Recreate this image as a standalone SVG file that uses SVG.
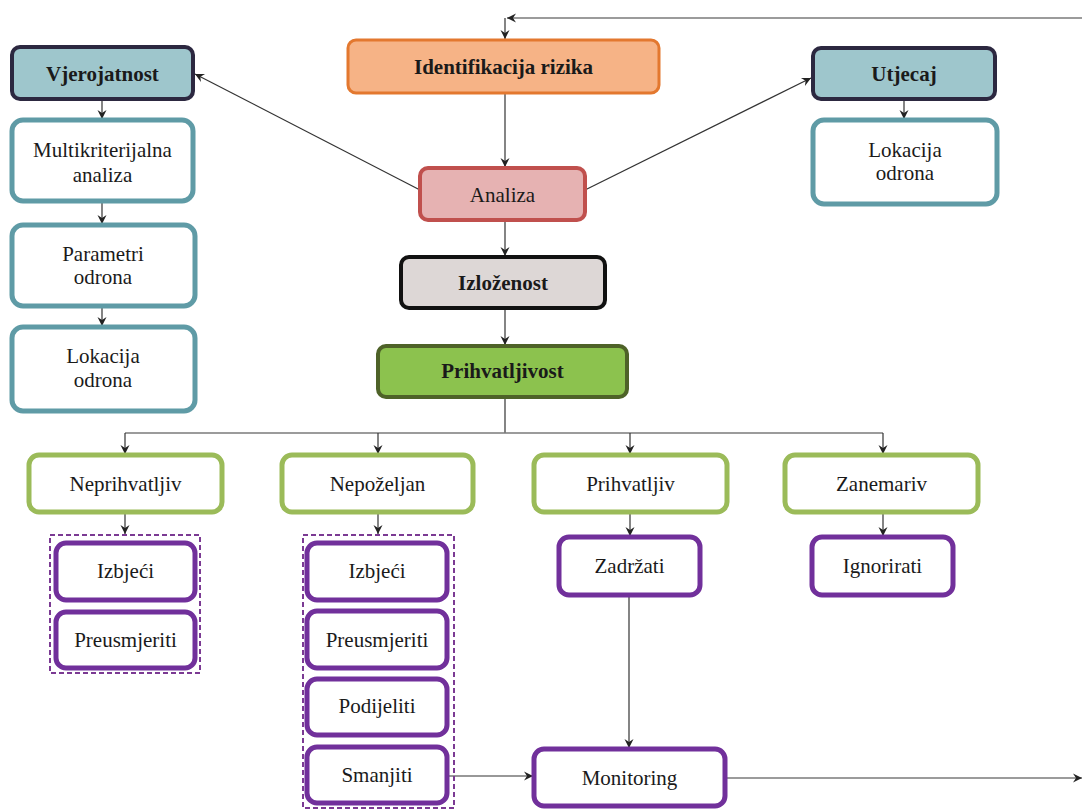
<svg xmlns="http://www.w3.org/2000/svg" width="1085" height="809" viewBox="0 0 1085 809">
<defs>
<marker id="arr" markerWidth="12" markerHeight="12" refX="10" refY="5" orient="auto" markerUnits="userSpaceOnUse">
<path d="M1,0.5 L10,5 L1,9.5 L4,5 Z" fill="#222"/>
</marker>
</defs>
<style>
text{font-family:'Liberation Serif','Times New Roman',serif;font-size:21px;fill:#1a1a1a;text-anchor:middle}
.b{font-weight:bold;font-size:21px}
.c{stroke:#333;stroke-width:1.2;fill:none}
.g{stroke:#7a7a7a;stroke-width:1.5;fill:none}
.teal{fill:#fff;stroke:#5f9ba6;stroke-width:5}
.head{fill:#9ec6cc;stroke:#2c2840;stroke-width:4}
.grn{fill:#fff;stroke:#9bbb59;stroke-width:5}
.pur{fill:#fff;stroke:#71309b;stroke-width:5}
.dash{fill:none;stroke:#7b3a93;stroke-width:2;stroke-dasharray:5,3}
</style>
<rect width="1085" height="809" fill="#fff"/>
<g id="connectors">
<line class="g" x1="1082" y1="18" x2="507" y2="18" marker-end="url(#arr)"/>
<line class="c" x1="505" y1="18" x2="505" y2="39" marker-end="url(#arr)"/>
<line class="c" x1="505" y1="93" x2="505" y2="167" marker-end="url(#arr)"/>
<line class="c" x1="420" y1="190" x2="195" y2="74" marker-end="url(#arr)"/>
<line class="c" x1="585" y1="190" x2="811" y2="78" marker-end="url(#arr)"/>
<line class="c" x1="505" y1="220" x2="505" y2="256" marker-end="url(#arr)"/>
<line class="c" x1="505" y1="308" x2="505" y2="345" marker-end="url(#arr)"/>
<line class="c" x1="505" y1="397" x2="505" y2="433"/>
<line class="g" x1="125" y1="433" x2="883" y2="433"/>
<line class="c" x1="125" y1="433" x2="125" y2="454" marker-end="url(#arr)"/>
<line class="c" x1="378" y1="433" x2="378" y2="454" marker-end="url(#arr)"/>
<line class="c" x1="630" y1="433" x2="630" y2="454" marker-end="url(#arr)"/>
<line class="c" x1="883" y1="433" x2="883" y2="454" marker-end="url(#arr)"/>
<line class="c" x1="102" y1="99" x2="102" y2="119" marker-end="url(#arr)"/>
<line class="c" x1="102" y1="201" x2="102" y2="224" marker-end="url(#arr)"/>
<line class="c" x1="102" y1="306" x2="102" y2="326" marker-end="url(#arr)"/>
<line class="c" x1="904" y1="99" x2="904" y2="119" marker-end="url(#arr)"/>
<line class="c" x1="125" y1="512" x2="125" y2="534" marker-end="url(#arr)"/>
<line class="c" x1="378" y1="512" x2="378" y2="534" marker-end="url(#arr)"/>
<line class="c" x1="630" y1="512" x2="630" y2="536" marker-end="url(#arr)"/>
<line class="c" x1="883" y1="512" x2="883" y2="536" marker-end="url(#arr)"/>
<line class="c" x1="629" y1="595" x2="629" y2="748" marker-end="url(#arr)"/>
<line class="c" x1="447" y1="776" x2="533" y2="776" marker-end="url(#arr)"/>
<line class="g" x1="725" y1="778" x2="1082" y2="778" marker-end="url(#arr)"/>
</g>
<g id="vjerojatnost"><rect class="head" x="12" y="47" width="181" height="52" rx="8"/><text class="b" x="102.5" y="81">Vjerojatnost</text></g>
<g id="multikriterijalna"><rect class="teal" x="12" y="120" width="181" height="81" rx="11"/><text x="102.5" y="157">Multikriterijalna</text><text x="102.5" y="182">analiza</text></g>
<g id="parametri"><rect class="teal" x="12" y="225" width="183" height="81" rx="11"/><text x="103" y="261">Parametri</text><text x="103" y="284">odrona</text></g>
<g id="lokacija1"><rect class="teal" x="12" y="327" width="183" height="84" rx="11"/><text x="103" y="363">Lokacija</text><text x="103" y="387">odrona</text></g>
<g id="identifikacija"><rect x="348" y="40" width="311" height="53" rx="8" fill="#f6b386" stroke="#e3782f" stroke-width="3"/><text class="b" x="503.5" y="74">Identifikacija rizika</text></g>
<g id="analiza"><rect x="420" y="168" width="165" height="52" rx="8" fill="#e6b2b2" stroke="#c0504d" stroke-width="4"/><text x="502.5" y="202">Analiza</text></g>
<g id="izlozenost"><rect x="401" y="257" width="204" height="51" rx="8" fill="#ddd7d6" stroke="#111" stroke-width="4"/><text class="b" x="503" y="290">Izloženost</text></g>
<g id="prihvatljivost"><rect x="378" y="346" width="249" height="51" rx="8" fill="#8cc24e" stroke="#4e6228" stroke-width="4"/><text class="b" x="502.5" y="378">Prihvatljivost</text></g>
<g id="utjecaj"><rect class="head" x="813" y="48" width="182" height="51" rx="8"/><text class="b" x="904" y="81">Utjecaj</text></g>
<g id="lokacija2"><rect class="teal" x="813" y="120" width="184" height="84" rx="11"/><text x="905" y="157">Lokacija</text><text x="905" y="180">odrona</text></g>
<g id="neprihvatljiv"><rect class="grn" x="29" y="455" width="193" height="57" rx="10"/><text x="125.5" y="491">Neprihvatljiv</text></g>
<g id="nepozeljan"><rect class="grn" x="282" y="455" width="191" height="57" rx="10"/><text x="377.5" y="491">Nepoželjan</text></g>
<g id="prihvatljiv"><rect class="grn" x="534" y="455" width="193" height="57" rx="10"/><text x="630.5" y="491">Prihvatljiv</text></g>
<g id="zanemariv"><rect class="grn" x="785" y="455" width="193" height="57" rx="10"/><text x="881.5" y="491">Zanemariv</text></g>
<g id="grupa1"><rect class="dash" x="50" y="535" width="150" height="138"/></g>
<g id="izbjeci1"><rect class="pur" x="56" y="543" width="139" height="57" rx="10"/><text x="125.5" y="578">Izbjeći</text></g>
<g id="preusmjeriti1"><rect class="pur" x="56" y="612" width="139" height="56" rx="10"/><text x="125.5" y="647">Preusmjeriti</text></g>
<g id="grupa2"><rect class="dash" x="303" y="535" width="151" height="273"/></g>
<g id="izbjeci2"><rect class="pur" x="307" y="543" width="140" height="57" rx="10"/><text x="377" y="578">Izbjeći</text></g>
<g id="preusmjeriti2"><rect class="pur" x="307" y="611" width="140" height="57" rx="10"/><text x="377" y="647">Preusmjeriti</text></g>
<g id="podijeliti"><rect class="pur" x="307" y="679" width="140" height="56" rx="10"/><text x="377" y="713">Podijeliti</text></g>
<g id="smanjiti"><rect class="pur" x="307" y="747" width="140" height="56" rx="10"/><text x="377" y="782">Smanjiti</text></g>
<g id="zadrzati"><rect class="pur" x="559" y="537" width="141" height="58" rx="10"/><text x="629.5" y="573">Zadržati</text></g>
<g id="ignorirati"><rect class="pur" x="812" y="537" width="141" height="58" rx="10"/><text x="882.5" y="573">Ignorirati</text></g>
<g id="monitoring"><rect class="pur" x="534" y="749" width="191" height="57" rx="10"/><text x="629.5" y="785">Monitoring</text></g>
</svg>
